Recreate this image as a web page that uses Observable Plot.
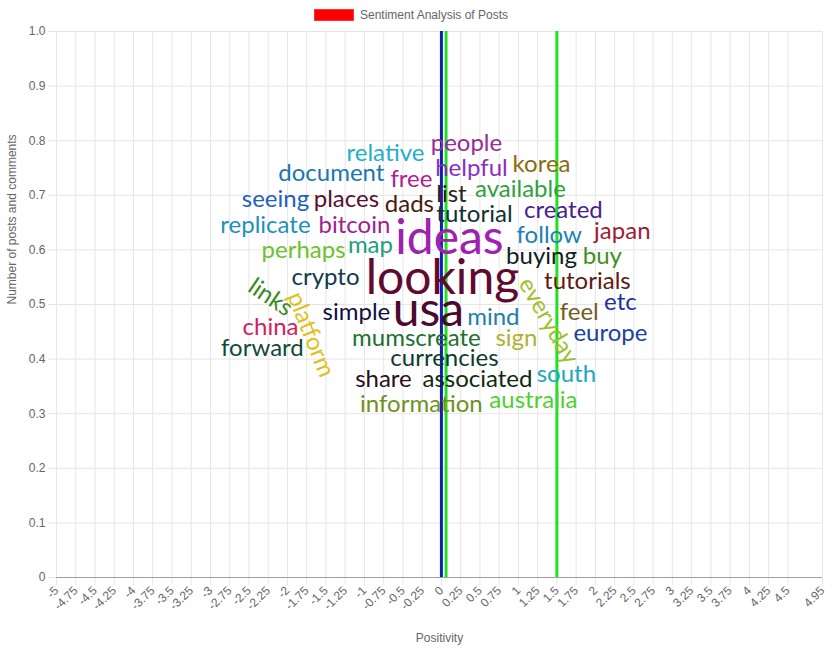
<!DOCTYPE html>
<html>
<head>
<meta charset="utf-8">
<script src="https://cdn.jsdelivr.net/npm/d3@7"></script>
<script src="https://cdn.jsdelivr.net/npm/@observablehq/plot@0.6"></script>
<style>
  html, body { margin: 0; padding: 0; background: #fff; }
  #legend { height: 20px; padding-top: 5px; padding-right: 10px; display: flex; justify-content: center; align-items: center;
    font: 12px "Liberation Sans", Arial, sans-serif; color: #666; }
  #legend .box { width: 40px; height: 12px; background: #ff0000; margin-right: 6px; box-sizing: border-box; border: 1px solid #f33; }
  svg { overflow: visible; display: block; }
</style>
</head>
<body>
<div id="legend"><span class="box"></span><span>Sentiment Analysis of Posts</span></div>
<div id="chart"></div>
<script>
// Tick values
const xTicks = [-5, -4.75, -4.5, -4.25, -4, -3.75, -3.5, -3.25, -3, -2.75, -2.5, -2.25, -2, -1.75, -1.5, -1.25, -1, -0.75, -0.5, -0.25,
  0, 0.25, 0.5, 0.75, 1, 1.25, 1.5, 1.75, 2, 2.25, 2.5, 2.75, 3, 3.25, 3.5, 3.75, 4, 4.25, 4.5, 4.95];
const yTicks = [0, 0.1, 0.2, 0.3, 0.4, 0.5, 0.6, 0.7, 0.8, 0.9, 1.0];

// Reference lines (positivity values)
const blueLines = [0];
const greenLines = [0.06, 1.5];

// Word cloud
const words = ["people","relative","helpful","korea","document","free","available","list","seeing","places",
  "dads","tutorial","created","replicate","bitcoin","ideas","follow","japan","perhaps","map",
  "buying","buy","looking","crypto","tutorials","links","platform","everyday","etc","simple",
  "usa","mind","feel","china","europe","mumscreate","sign","forward","currencies","south",
  "share","associated","information","australia"];
const wordX = [0.325,-0.727,0.39,1.30,-1.43,-0.39,1.026,0.13,-2.156,-1.234,
  -0.416,0.429,1.584,-2.286,-1.13,0.104,1.40,2.35,-1.79,-0.922,
  1.30,2.09,0.013,-1.506,1.896,-2.22,-1.695,1.39,2.325,-1.104,
  -0.169,0.675,1.79,-2.22,2.195,-0.325,0.974,-2.325,0.039,1.623,
  -0.753,0.468,-0.26,1.195];
const wordY = [0.795,0.777,0.749,0.756,0.740,0.729,0.711,0.701,0.692,0.692,
  0.683,0.665,0.672,0.645,0.645,0.621,0.626,0.634,0.599,0.608,
  0.588,0.588,0.548,0.549,0.542,0.513,0.445,0.470,0.504,0.485,
  0.489,0.476,0.485,0.458,0.447,0.438,0.438,0.419,0.401,0.372,
  0.363,0.363,0.317,0.324];
const wordWeight = [1,1,1,1,1,1,1,1,1,1, 1,1,1,1,1,3,1,1,1,1, 1,1,3,1,1,1,1,1,1,1, 3,1,1,1,1,1,1,1,1,1, 1,1,1,1];
const wordAngle = [0,0,0,0,0,0,0,0,0,0, 0,0,0,0,0,0,0,0,0,0, 0,0,0,0,0,34,68,60,0,0, 0,0,0,0,0,0,0,0,0,0, 0,0,0,0];
const wordColor = ["#9a2a9a","#22b0c8","#8a30c0","#8a6a10","#1a78b0","#b02090","#30a040","#2a2020","#2060c0","#5a1030",
  "#4a1a10","#103030","#4a2090","#2090b8","#a02090","#a020b0","#2080b8","#a02030","#70c030","#20a080",
  "#102020","#409020","#600a30","#103a4a","#601a10","#3a8a20","#e0c020","#a0c030","#2030a0","#101040",
  "#4a0a30","#2080a8","#706020","#d02060","#2040a0","#207030","#b0b030","#104a3a","#103a30","#20a8c0",
  "#2a1020","#102a10","#709020","#50d030"];

const cloud = words.map((w, i) => ({word: w, x: wordX[i], y: wordY[i], weight: wordWeight[i], angle: wordAngle[i], color: wordColor[i]}));

const fmtX = d => String(d);
const fmtY = d => d === 0 ? "0" : d.toFixed(1);

const chart = Plot.plot({
  width: 832,
  height: 625,
  marginTop: 6,
  marginLeft: 56,
  marginRight: 10,
  marginBottom: 73,
  x: {domain: [-5, 4.95]},
  y: {domain: [0, 1]},
  style: {fontFamily: '"Liberation Sans", Arial, sans-serif', fontSize: "12px", color: "#666", background: "white", overflow: "visible"},
  marks: [
    Plot.gridX(xTicks, {stroke: "#e6e6e6", strokeOpacity: 1}),
    Plot.gridY(yTicks, {stroke: "#e6e6e6", strokeOpacity: 1}),
    Plot.axisX(xTicks, {tickRotate: -45, tickSize: 8, tickPadding: 3, tickFormat: fmtX, stroke: "#e6e6e6", fill: "#666", label: null}),
    Plot.axisY(yTicks, {tickSize: 8, tickPadding: 3, tickFormat: fmtY, stroke: "#e6e6e6", fill: "#666", label: null}),
    Plot.ruleY([0], {stroke: "#a0a0a0", strokeWidth: 1}),
    Plot.ruleX([-5], {stroke: "#e6e6e6", strokeWidth: 1}),
    Plot.ruleX(blueLines, {stroke: "#1020b0", strokeWidth: 3}),
    Plot.ruleX(greenLines, {stroke: "#22e022", strokeWidth: 3}),
    Plot.text(cloud, {
      x: "x", y: "y", text: "word", fill: "color", rotate: "angle",
      fontSize: d => d.weight === 3 ? 48 : 24,
      fontFamily: "Lato, sans-serif",
      textAnchor: "middle", lineAnchor: "middle"
    }),
    Plot.text(["Positivity"], {frameAnchor: "bottom", dy: 64, fill: "#666", fontSize: 12}),
    Plot.text(["Number of posts and comments"], {frameAnchor: "left", rotate: -90, dx: -44, fill: "#666", fontSize: 12})
  ]
});
document.getElementById("chart").appendChild(chart);
</script>
</body>
</html>
